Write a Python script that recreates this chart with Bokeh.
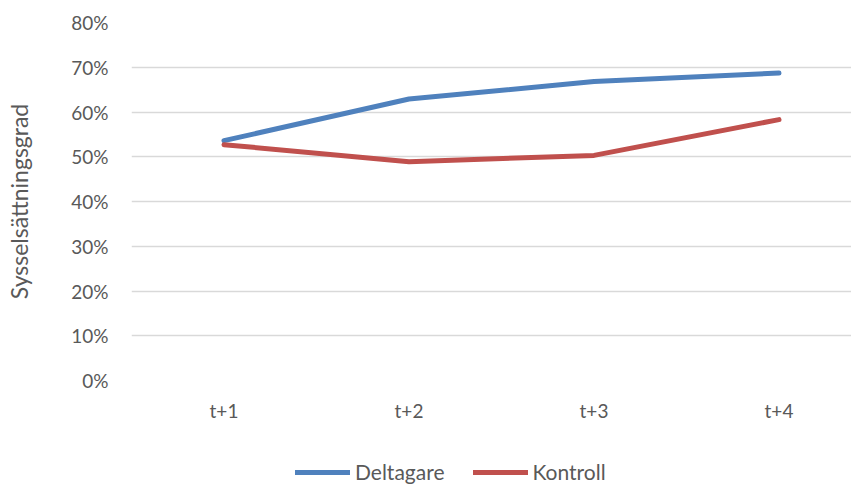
from bokeh.plotting import figure
from bokeh.layouts import column
from bokeh.models import Range1d, FixedTicker, Legend, LegendItem, NumeralTickFormatter
from bokeh.embed import file_html
from bokeh.resources import INLINE

categories = ["t+1", "t+2", "t+3", "t+4"]
deltagare = [0.536, 0.629, 0.668, 0.687]
kontroll = [0.527, 0.489, 0.503, 0.583]
y_ticks = [0.0, 0.1, 0.2, 0.3, 0.4, 0.5, 0.6, 0.7, 0.8]
y_title = "Sysselsättningsgrad"
series_names = ["Deltagare", "Kontroll"]
series_colors = ["#4F81BD", "#C0504D"]

FONT = "Lato"
TXT = "#595959"

xs = list(range(1, len(categories) + 1))
series_values = [deltagare, kontroll]

p = figure(width=851, height=450, output_backend="svg", toolbar_location=None,
           x_range=Range1d(0.5, 0.5 + 720.0 / 185.0), y_range=Range1d(0, 0.8),
           min_border_left=131, min_border_right=0, min_border_top=22, min_border_bottom=70)
p.outline_line_color = None
p.background_fill_color = "white"
p.border_fill_color = "white"

# y axis
p.yaxis.ticker = FixedTicker(ticks=y_ticks)
p.yaxis.formatter = NumeralTickFormatter(format="0%")
p.yaxis.axis_line_color = None
p.yaxis.major_tick_line_color = None
p.yaxis.minor_tick_line_color = None
p.yaxis.major_label_text_font = FONT
p.yaxis.major_label_text_font_size = "19px"
p.yaxis.major_label_text_color = TXT
p.yaxis.major_label_standoff = 17
p.yaxis.axis_label = y_title
p.yaxis.axis_label_text_font = FONT
p.yaxis.axis_label_text_font_size = "23px"
p.yaxis.axis_label_text_font_style = "normal"
p.yaxis.axis_label_text_color = TXT
p.yaxis.axis_label_standoff = 35

# x axis
p.xaxis.ticker = FixedTicker(ticks=xs)
p.xaxis.major_label_overrides = {x: c for x, c in zip(xs, categories)}
p.xaxis.axis_line_color = None
p.xaxis.major_tick_line_color = None
p.xaxis.minor_tick_line_color = None
p.xaxis.major_label_text_font = FONT
p.xaxis.major_label_text_font_size = "19px"
p.xaxis.major_label_text_color = TXT
p.xaxis.major_label_standoff = 12

p.xgrid.grid_line_color = None
p.ygrid.ticker = FixedTicker(ticks=y_ticks)
p.ygrid.grid_line_color = "#D9D9D9"
p.ygrid.grid_line_width = 1.3

for vals, col in zip(series_values, series_colors):
    p.line(xs, vals, line_color=col, line_width=5, line_cap="round", line_join="round")

# legend strip below the chart (its series lie outside its visible range)
lg = figure(width=851, height=34, output_backend="svg", toolbar_location=None,
            x_range=Range1d(100, 101), y_range=Range1d(100, 101),
            x_axis_location=None, y_axis_location=None,
            min_border_left=131, min_border_right=0, min_border_top=0, min_border_bottom=0)
lg.grid.grid_line_color = None
lg.outline_line_color = None
lg.border_fill_color = "white"
items = []
for name, vals, col in zip(series_names, series_values, series_colors):
    r = lg.line(xs, vals, line_color=col, line_width=5, line_cap="round")
    items.append(LegendItem(label=name, renderers=[r]))
legend = Legend(items=items, orientation="horizontal", location=(164, 0),
                glyph_width=55, glyph_height=22, label_standoff=5, spacing=28,
                padding=0, margin=0, border_line_color=None, background_fill_alpha=0,
                label_text_font=FONT, label_text_font_size="21px", label_text_color=TXT)
lg.add_layout(legend, "center")

layout = column(p, lg, spacing=0)
open("out.html", "w").write(file_html(layout, INLINE))
